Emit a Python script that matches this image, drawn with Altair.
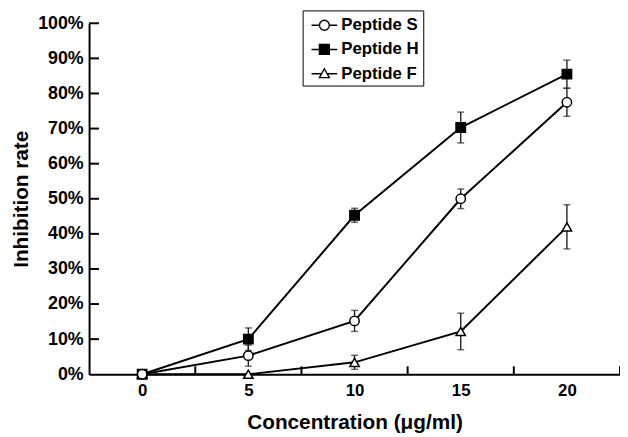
import altair as alt
import pandas as pd

# ---- data ----
conc = [0, 5, 10, 15, 20]
series = ["Peptide S", "Peptide H", "Peptide F"]
s_vals = [0, 5.3, 15.2, 50.0, 77.5]
s_err = [0, 3.0, 3.0, 2.8, 4.0]
h_vals = [0, 10.0, 45.3, 70.3, 85.5]
h_err = [0, 3.2, 2.0, 4.4, 4.0]
f_vals = [0, 0, 3.4, 12.2, 42.0]
f_err = [0, 0, 2.0, 5.2, 6.3]

y_ticks = [0, 10, 20, 30, 40, 50, 60, 70, 80, 90, 100]
x_labels = [0, 5, 10, 15, 20]
x_minor = [2.5, 7.5, 12.5, 17.5, 22.5]

rows = []
for name, vals, errs in zip(series, [s_vals, h_vals, f_vals], [s_err, h_err, f_err]):
    for c, v, e in zip(conc, vals, errs):
        rows.append({"series": name, "conc": c, "rate": v, "lo": v - e, "hi": v + e, "err": e})
df = pd.DataFrame(rows)
ytick_df = pd.DataFrame({"yt": y_ticks[1:]})
xtick_df = pd.DataFrame({"xt": x_minor})

FONT = "Liberation Sans"
W, H = 537, 355
X_TITLE = "Concentration (μg/ml)"
Y_TITLE = "Inhibition rate"

xscale = alt.Scale(domain=[-2.5, 22.5], nice=False, zero=False)
yscale = alt.Scale(domain=[0, 100], nice=False)

x_axis = alt.Axis(values=x_labels, ticks=False, grid=False, labelPadding=8,
                  title=X_TITLE, titlePadding=14,
                  domainColor="black", domainWidth=2,
                  labelFont=FONT, labelFontWeight="bold", labelFontSize=17, labelColor="black",
                  titleFont=FONT, titleFontWeight="bold", titleFontSize=21, titleColor="black")
y_axis = alt.Axis(values=y_ticks, ticks=False, grid=False, labelPadding=6, labelOverlap=False,
                  labelExpr="datum.value + '%'", title=Y_TITLE, titlePadding=6,
                  domainColor="black", domainWidth=2,
                  labelFont=FONT, labelFontWeight="bold", labelFontSize=18, labelColor="black",
                  titleFont=FONT, titleFontWeight="bold", titleFontSize=21, titleColor="black")


def X(field):
    return alt.X(field, scale=xscale, axis=x_axis, title=X_TITLE)


def Y(field):
    return alt.Y(field, scale=yscale, axis=y_axis, title=Y_TITLE)


base = alt.Chart(df)

lines = base.mark_line(color="black", strokeWidth=2).encode(
    x=X("conc:Q"), y=Y("rate:Q"), detail="series:N",
)

errs = base.transform_filter("datum.err > 0")

err_rule = errs.mark_rule(color="#222", strokeWidth=1.4).encode(
    x=X("conc:Q"), y=Y("lo:Q"), y2="hi:Q"
)
cap_lo = errs.mark_tick(color="#222", orient="horizontal", size=7, thickness=1.4).encode(
    x=X("conc:Q"), y=Y("lo:Q")
)
cap_hi = errs.mark_tick(color="#222", orient="horizontal", size=7, thickness=1.4).encode(
    x=X("conc:Q"), y=Y("hi:Q")
)

points = base.mark_point(filled=True, stroke="black", strokeWidth=1.5, size=90, opacity=1).encode(
    x=X("conc:Q"),
    y=Y("rate:Q"),
    shape=alt.Shape("series:N", scale=alt.Scale(domain=series, range=["circle", "square", "triangle-up"]), legend=None),
    fill=alt.Fill("series:N", scale=alt.Scale(domain=series, range=["white", "black", "white"]), legend=None),
    order=alt.Order("series:N"),
)

legend_paths = [
    "M-1.3,0H-0.5A0.5,0.5 0 1,1 0.5,0A0.5,0.5 0 1,1 -0.5,0M0.5,0H1.3",
    "M-1.3,0H1.3M-0.5,-0.5H0.5V0.5H-0.5Z",
    "M-1.3,0H-0.28M0.28,0H1.3M0,-0.5L0.5,0.4L-0.5,0.4Z",
]
leg = alt.Legend(
    title=None, orient="none", legendX=216, legendY=-13,
    strokeColor="black", padding=4, rowPadding=5.5,
    symbolSize=400, symbolOffset=7, labelOffset=6,
    symbolStrokeColor="black", symbolStrokeWidth=1.4,
    labelFont=FONT, labelFontWeight="bold", labelFontSize=17, labelColor="black",
)
legend_layer = base.transform_filter("false").mark_point(
    filled=True, size=400, opacity=1, strokeWidth=1.4
).encode(
    x=X("conc:Q"),
    y=Y("rate:Q"),
    shape=alt.Shape("series:N", scale=alt.Scale(domain=series, range=legend_paths), legend=leg),
    fill=alt.Fill("series:N", scale=alt.Scale(domain=series, range=["white", "black", "white"]), legend=leg),
    stroke=alt.Stroke("series:N", scale=alt.Scale(domain=series, range=["black", "black", "black"]), legend=leg),
)

ytick_rules = alt.Chart(ytick_df).mark_rule(color="black", strokeWidth=2).encode(
    y=Y("yt:Q"), x=alt.value(0), x2=alt.value(10)
)
xtick_rules = alt.Chart(xtick_df).mark_rule(color="black", strokeWidth=2).encode(
    x=X("xt:Q"), y=alt.value(H - 8), y2=alt.value(H)
)

chart = alt.layer(
    lines, ytick_rules, xtick_rules, err_rule, cap_lo, cap_hi, points, legend_layer
).resolve_scale(
    shape="independent", fill="independent", stroke="independent"
).properties(
    width=W, height=H,
    padding={"left": 82, "top": 13, "right": 0, "bottom": 60},
    autosize="none",
    background="white",
).configure_view(stroke=None)

chart.save("out.html", embed_options={"renderer": "svg", "actions": False})
